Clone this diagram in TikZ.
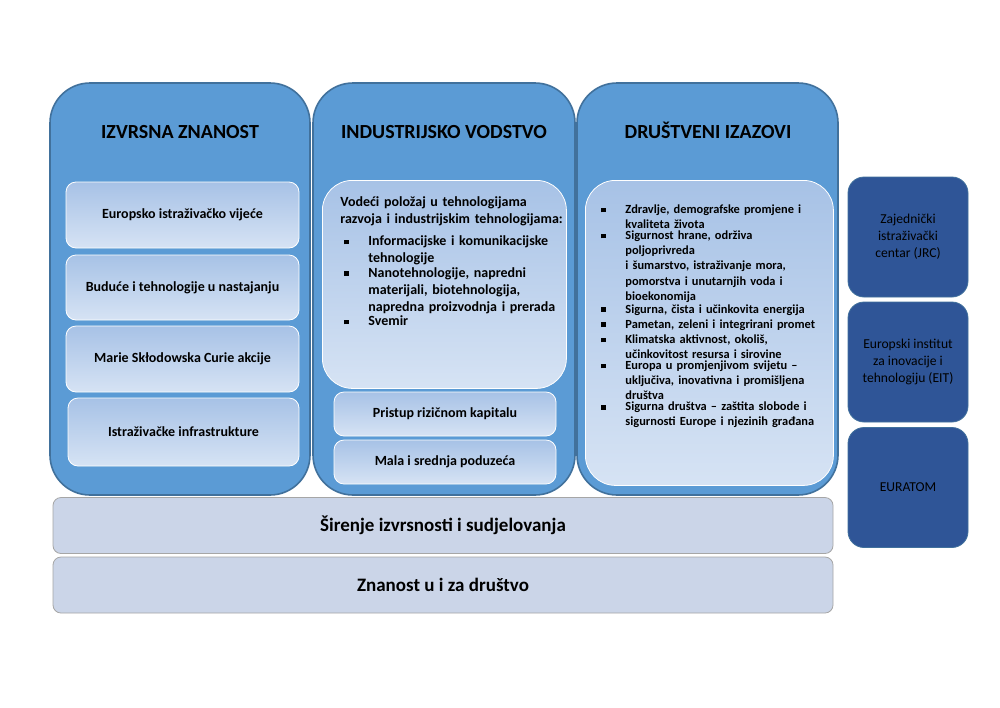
\documentclass[tikz,border=0pt]{standalone}
\usepackage{fontspec}
\setmainfont{Carlito}
\usetikzlibrary{positioning}
\definecolor{colblue}{HTML}{5B9BD5}
\definecolor{colline}{HTML}{41719C}
\definecolor{boxtop}{HTML}{A7C2E6}
\definecolor{boxbot}{HTML}{D6E3F4}
\definecolor{darkbox}{HTML}{2F5597}
\definecolor{barfill}{HTML}{CBD5E8}
\newcommand{\bul}[1]{\par\noindent\hbox to 14pt{\hskip2pt\rule[0.6pt]{2.4pt}{2.4pt}\hfil}\parbox[t]{100pt}{\raggedright #1}\par}
\tikzset{
  column/.style={draw=colline,line width=0.8pt,fill=colblue,rounded corners=20pt},
  inner/.style={draw=white,line width=0.4pt,top color=boxtop,bottom color=boxbot,rounded corners=5pt,
    font=\fontsize{7}{8.5}\selectfont\bfseries,align=center},
  bigbox/.style={inner,rounded corners=15pt,align=left,anchor=north west,inner sep=0pt},
  listtext/.style={anchor=north west,inner sep=0pt,align=left},
  heading/.style={font=\fontsize{10}{12}\selectfont\bfseries,anchor=base},
  sidebox/.style={draw=colline,fill=darkbox,rounded corners=8pt,minimum width=60pt,minimum height=60pt,
    align=center,font=\fontsize{6.8}{8.5}\selectfont},
  bar/.style={draw=gray!70,fill=barfill,rounded corners=4pt,minimum width=390pt,minimum height=28pt,
    font=\fontsize{9.5}{11}\selectfont\bfseries}
}
\begin{document}
\begin{tikzpicture}[x=0.5pt,y=-0.5pt]
\path[use as bounding box,fill=white] (0,0) rectangle (1000,707);

% three pillars
\draw[column] (50,83) rectangle (310,495);
\draw[column] (313,83) rectangle (575,495);
\draw[column] (577,83) rectangle (838,495);
\node[heading] (h1) at (180,138) {IZVRSNA ZNANOST};
\node[heading] (h2) at (444,138) {INDUSTRIJSKO VODSTVO};
\node[heading] (h3) at (708,138) {DRUŠTVENI IZAZOVI};

% excellent science
\node[inner,minimum width=116.5pt,minimum height=33pt] (erc) at (182.5,215) {Europsko istraživačko vijeće};
\node[inner,minimum width=116.5pt,minimum height=32.5pt] (fet) at (182.5,287.5) {Buduće i tehnologije u nastajanju};
\node[inner,minimum width=116.5pt,minimum height=33pt] (msc) at (182.5,359) {Marie Skłodowska Curie akcije};
\node[inner,minimum width=115.5pt,minimum height=34pt] (infra) at (183.5,432) {Istraživačke infrastrukture};

% industrial leadership
\node[bigbox,minimum width=122pt,minimum height=104pt] (leit) at (322,180) {};
\node[listtext,text width=118pt,font=\fontsize{7}{8.6}\selectfont\bfseries] (leittext) at (340,196)
  {\parbox[t]{118pt}{\raggedright Vodeći položaj u tehnologijama\\ razvoja i industrijskim tehnologijama:}\par\vspace{4pt}
   \bul{Informacijske i komunikacijske\\ tehnologije}
   \bul{Nanotehnologije, napredni\\ materijali, biotehnologija,\\ napredna proizvodnja i prerada}
   \bul{Svemir}};
\node[inner,minimum width=111pt,minimum height=22pt] (risk) at (445,414) {Pristup rizičnom kapitalu};
\node[inner,minimum width=111pt,minimum height=22pt] (sme) at (445,462) {Mala i srednja poduzeća};

% societal challenges
\node[bigbox,minimum width=124pt,minimum height=152.5pt] (soc) at (585,180) {};
\node[listtext,text width=116pt,font=\fontsize{6.2}{7.6}\selectfont\bfseries] (soctext) at (597,198)
  {\bul{Zdravlje, demografske promjene i\\ kvaliteta života}
   \bul{Sigurnost hrane, održiva poljoprivreda\\ i šumarstvo, istraživanje mora,\\ pomorstva i unutarnjih voda i\\ bioekonomija}
   \bul{Sigurna, čista i učinkovita energija}
   \bul{Pametan, zeleni i integrirani promet}
   \bul{Klimatska aktivnost, okoliš,\\ učinkovitost resursa i sirovine}
   \bul{Europa u promjenjivom svijetu –\\ uključiva, inovativna i promišljena\\ društva}
   \bul{Sigurna društva – zaštita slobode i\\ sigurnosti Europe i njezinih građana}};

% side boxes
\node[sidebox] (jrc) at (908,237) {Zajednički\\ istraživački\\ centar (JRC)};
\node[sidebox] (eit) at (908,362) {Europski institut\\ za inovacije i\\ tehnologiju (EIT)};
\node[sidebox] (euratom) at (908,487.5) {EURATOM};

% bottom bars
\node[bar] (spread) at (443,525.5) {Širenje izvrsnosti i sudjelovanja};
\node[bar] (swafs) at (443,585) {Znanost u i za društvo};
\end{tikzpicture}
\end{document}
